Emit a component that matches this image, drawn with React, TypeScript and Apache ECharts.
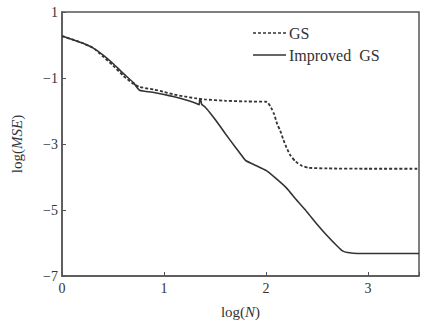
import React, { useEffect, useRef } from "react";
import * as echarts from "echarts";

// log(N) / log(MSE) samples for the plain GS iteration
const gsLogN = [
  0, 0.1, 0.2, 0.3, 0.4, 0.5, 0.6, 0.7, 0.76, 0.9, 1.0, 1.1, 1.2, 1.3, 1.4, 1.6,
  1.8, 2.0, 2.02, 2.05, 2.08, 2.11, 2.14, 2.17, 2.2, 2.24, 2.29, 2.35, 2.42, 2.6, 3.0, 3.5,
];
const gsLogMSE = [
  0.27, 0.17, 0.06, -0.08, -0.34, -0.62, -0.93, -1.18, -1.27, -1.35, -1.42, -1.5, -1.56,
  -1.61, -1.65, -1.69, -1.71, -1.72, -1.75, -1.9, -2.1, -2.4, -2.6, -2.87, -3.1, -3.35,
  -3.53, -3.66, -3.72, -3.74, -3.75, -3.75,
];

// log(N) / log(MSE) samples for the improved GS iteration
const improvedLogN = [
  0, 0.1, 0.2, 0.3, 0.4, 0.5, 0.6, 0.7, 0.76, 0.9, 1.0, 1.1, 1.2, 1.3, 1.345, 1.35,
  1.36, 1.37, 1.4, 1.45, 1.5, 1.6, 1.7, 1.75, 1.8, 1.9, 2.0, 2.1, 2.2, 2.3, 2.4, 2.5,
  2.6, 2.7, 2.75, 2.8, 2.9, 3.2, 3.5,
];
const improvedLogMSE = [
  0.27, 0.17, 0.06, -0.08, -0.3, -0.56, -0.86, -1.14, -1.37, -1.44, -1.5, -1.57, -1.65,
  -1.75, -1.81, -1.63, -1.66, -1.8, -1.87, -2.05, -2.25, -2.68, -3.1, -3.3, -3.5, -3.65,
  -3.8, -4.05, -4.33, -4.7, -5.05, -5.43, -5.78, -6.1, -6.24, -6.29, -6.32, -6.32, -6.32,
];

const seriesNames = ["GS", "Improved  GS"];
const xTicks = { min: 0, max: 3.5, interval: 1 };
const yTicks = { min: -7, max: 1, interval: 2 };

const FONT = "'Liberation Serif', 'DejaVu Serif', serif";
const INK = "#333";
const AXIS = "#555";

const pairs = (xs: number[], ys: number[]) => xs.map((x, i) => [x, ys[i]]);

export default function App() {
  const ref = useRef<HTMLDivElement>(null);

  useEffect(() => {
    if (!ref.current) return;
    const chart = echarts.init(ref.current, undefined, { renderer: "svg" });
    const minus = (v: number) => String(v).replace("-", "\u2212");

    chart.setOption({
      animation: false,
      backgroundColor: "#fff",
      grid: {
        left: 62,
        right: 1,
        top: 12,
        bottom: 47,
        show: true,
        borderColor: AXIS,
        borderWidth: 1.5,
        backgroundColor: "transparent",
      },
      xAxis: {
        type: "value",
        min: xTicks.min,
        max: xTicks.max,
        interval: xTicks.interval,
        name: "log({i|N})",
        nameLocation: "middle",
        nameGap: 28,
        nameTextStyle: {
          fontFamily: FONT,
          fontSize: 15,
          color: INK,
          rich: { i: { fontFamily: FONT, fontSize: 15, fontStyle: "italic", color: INK } },
        },
        axisLine: { show: true, onZero: false, lineStyle: { color: AXIS, width: 1.5 } },
        axisTick: { show: true, inside: true, length: 4, lineStyle: { color: AXIS } },
        axisLabel: {
          fontFamily: FONT,
          fontSize: 14,
          color: INK,
          margin: 5,
          formatter: (v: number) => (v > 3 ? "" : minus(v)),
        },
        splitLine: { show: false },
      },
      yAxis: {
        type: "value",
        min: yTicks.min,
        max: yTicks.max,
        interval: yTicks.interval,
        name: "log({i|MSE})",
        nameLocation: "middle",
        nameGap: 38,
        nameRotate: 90,
        nameTextStyle: {
          fontFamily: FONT,
          fontSize: 15,
          color: INK,
          rich: { i: { fontFamily: FONT, fontSize: 15, fontStyle: "italic", color: INK } },
        },
        axisLine: { show: true, onZero: false, lineStyle: { color: AXIS, width: 1.5 } },
        axisTick: { show: true, inside: true, length: 4, lineStyle: { color: AXIS } },
        axisLabel: {
          fontFamily: FONT,
          fontSize: 14,
          color: INK,
          margin: 4,
          formatter: (v: number) => minus(v),
        },
        splitLine: { show: false },
      },
      series: [
        {
          name: seriesNames[0],
          type: "line",
          data: pairs(gsLogN, gsLogMSE),
          showSymbol: false,
          smooth: 0.2,
          lineStyle: { color: INK, width: 1.8, type: [3, 2] },
          z: 3,
        },
        {
          name: seriesNames[1],
          type: "line",
          data: pairs(improvedLogN, improvedLogMSE),
          showSymbol: false,
          smooth: 0.15,
          lineStyle: { color: INK, width: 1.6 },
          z: 2,
        },
      ],
      graphic: [
        {
          type: "line",
          shape: { x1: 253, y1: 33, x2: 286, y2: 33 },
          style: { stroke: INK, lineWidth: 1.5, lineDash: [3, 2] },
        },
        {
          type: "text",
          x: 289,
          y: 33,
          style: {
            text: seriesNames[0],
            font: `16px ${FONT}`,
            fill: INK,
            verticalAlign: "middle",
          },
        },
        {
          type: "line",
          shape: { x1: 253, y1: 55, x2: 286, y2: 55 },
          style: { stroke: INK, lineWidth: 1.5 },
        },
        {
          type: "text",
          x: 289,
          y: 55,
          style: {
            text: seriesNames[1],
            font: `16px ${FONT}`,
            fill: INK,
            verticalAlign: "middle",
          },
        },
      ],
    });

    return () => chart.dispose();
  }, []);

  return <div ref={ref} style={{ width: 422, height: 324, position: "absolute", left: 0, top: 0 }} />;
}
